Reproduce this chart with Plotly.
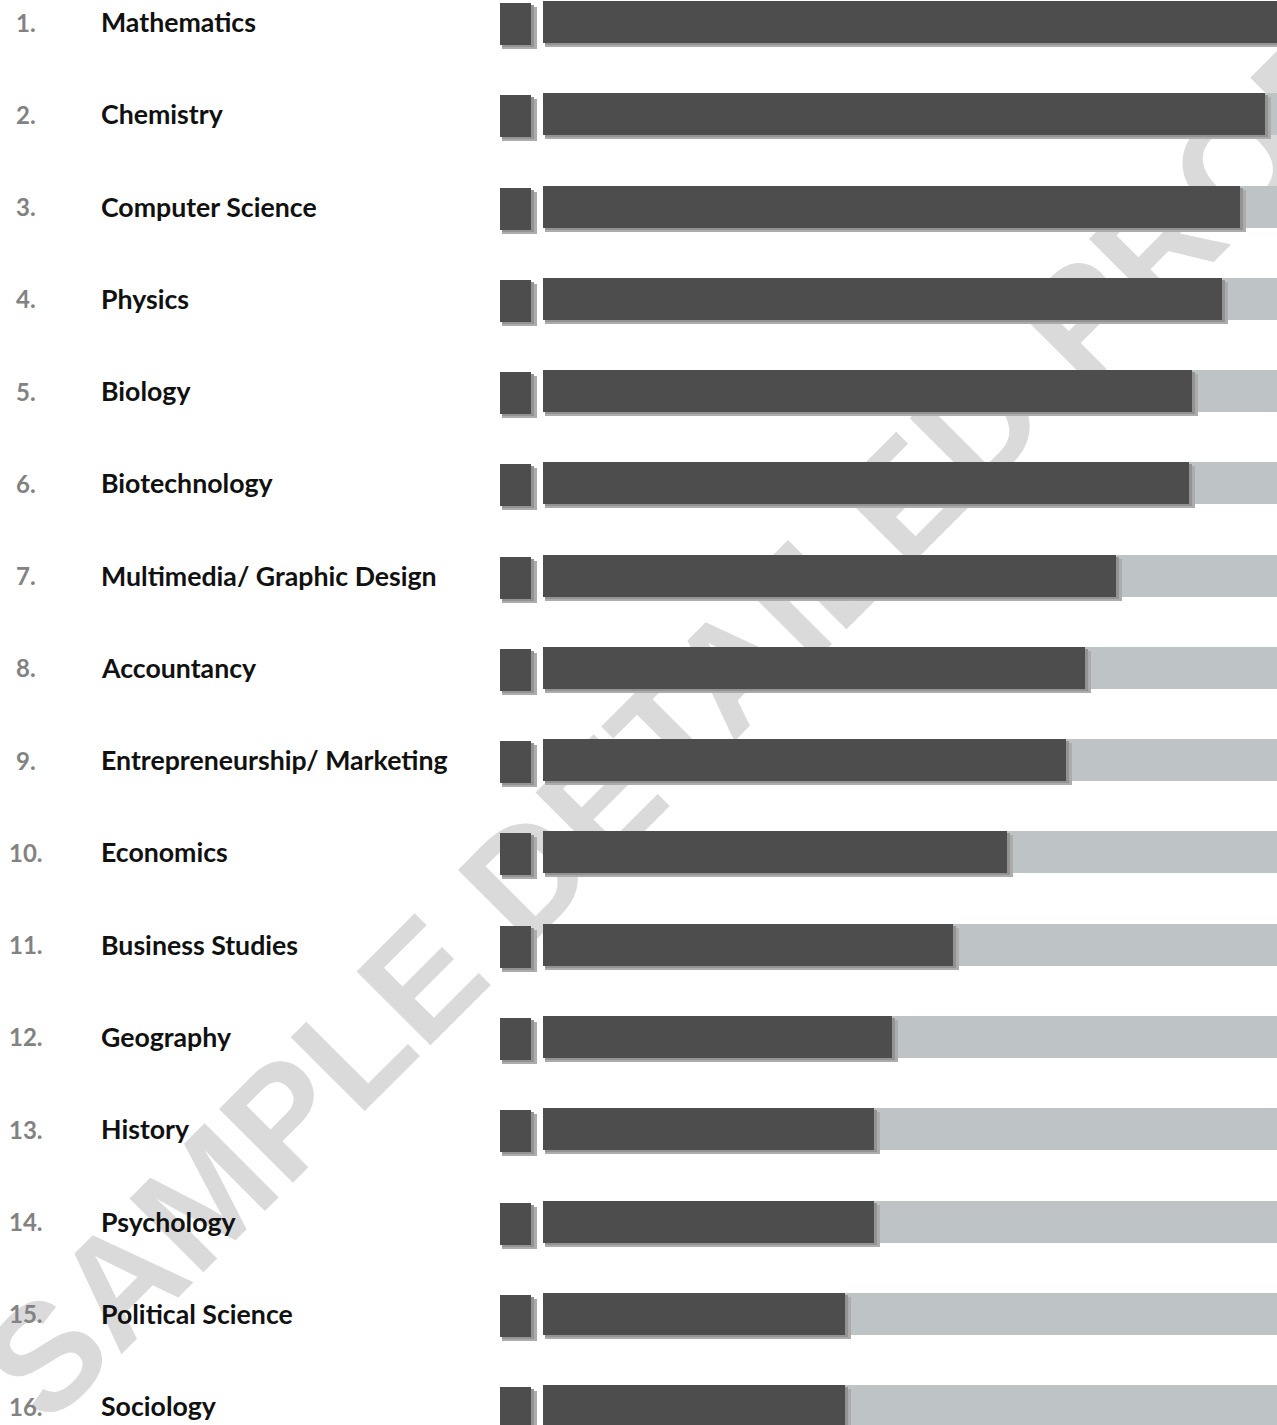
import plotly.graph_objects as go

# ---------------- data ----------------
ranks = ["1.", "2.", "3.", "4.", "5.", "6.", "7.", "8.", "9.", "10.",
         "11.", "12.", "13.", "14.", "15.", "16."]
subjects = ["Mathematics", "Chemistry", "Computer Science", "Physics", "Biology",
            "Biotechnology", "Multimedia/ Graphic Design", "Accountancy",
            "Entrepreneurship/ Marketing", "Economics", "Business Studies",
            "Geography", "History", "Psychology", "Political Science", "Sociology"]
scores = [100, 98.4, 95.0, 92.5, 88.4, 88.0, 78.1, 73.8, 71.3, 63.2,
          55.9, 47.5, 45.1, 45.1, 41.1, 41.1]
max_score = 100
square_flags = [1] * len(subjects)
watermark = "SAMPLE DETAILED PROFILE"

# ---------------- geometry ----------------
W, H = 1277, 1425
pitch = 92.27            # px per row
first_center = 22        # px from top
bar_h = 42 / pitch
ypos = list(range(len(subjects)))
y_top = -first_center / pitch
y_bot = y_top + H / pitch

bar_x0, bar_x1 = 543, 1277
px_per_unit = (bar_x1 - bar_x0) / max_score
sq_x0, sq_w, sq_extra = 500, 31, 7

DARK = "#4d4d4d"
LIGHT = "#bec3c6"
SH_OUT = "#acacac"
SH_IN = "#939393"

fig = go.Figure()

# background bars
fig.add_trace(go.Bar(x=[max_score] * len(scores), y=ypos, orientation="h",
                     width=bar_h, marker=dict(color=LIGHT, line_width=0),
                     xaxis="x", yaxis="y", hoverinfo="skip"))
# shadows
for dx, dy, col in [(6, 4, SH_OUT), (3, 2, SH_IN)]:
    fig.add_trace(go.Bar(x=[s - 2 / px_per_unit + dx / px_per_unit for s in scores],
                         base=2 / px_per_unit,
                         y=[p + dy / pitch for p in ypos], orientation="h",
                         width=bar_h, marker=dict(color=col, line_width=0),
                         xaxis="x", yaxis="y", hoverinfo="skip"))
# value bars
fig.add_trace(go.Bar(x=scores, y=ypos, orientation="h", width=bar_h,
                     marker=dict(color=DARK, line_width=0),
                     xaxis="x", yaxis="y", hovertemplate="%{x}<extra></extra>"))

# small squares (x2 axis, 1 unit = square width)
for dx, dy, col in [(6, 4, SH_OUT), (3, 2, SH_IN)]:
    fig.add_trace(go.Bar(x=[f - 2 / sq_w + dx / sq_w for f in square_flags],
                         base=2 / sq_w,
                         y=[p + (2 + dy) / pitch for p in ypos], orientation="h",
                         width=bar_h, marker=dict(color=col, line_width=0),
                         xaxis="x2", yaxis="y", hoverinfo="skip"))
fig.add_trace(go.Bar(x=square_flags, y=[p + 2 / pitch for p in ypos],
                     orientation="h", width=bar_h,
                     marker=dict(color=DARK, line_width=0),
                     xaxis="x2", yaxis="y", hoverinfo="skip"))

# labels
for i, (r, s) in enumerate(zip(ranks, subjects)):
    fig.add_annotation(x=26 / W, xref="paper", y=ypos[i], yref="y", text=r,
                       showarrow=False, xanchor="center", yanchor="middle",
                       font=dict(family="Lato", size=24, color="#828282", weight="bold"))
    fig.add_annotation(x=99 / W, xref="paper", y=ypos[i], yref="y", text=s,
                       showarrow=False, xanchor="left", yanchor="middle",
                       font=dict(family="Lato", size=26.7, color="#111111", weight="bold"))

# watermark (below traces)
cx, cy = 751 / W, 1 - 630 / H
fig.add_shape(type="rect", xref="paper", yref="paper",
              x0=cx - 0.05, x1=cx + 0.05, y0=cy - 0.05, y1=cy + 0.05,
              line=dict(width=0), fillcolor="rgba(0,0,0,0)", layer="below",
              label=dict(text=watermark, textangle=-45, textposition="middle center",
                         font=dict(family="Liberation Sans", size=152,
                                   color="#dadada", weight="bold")))

fig.update_layout(
    width=W, height=H, margin=dict(l=0, r=0, t=0, b=0),
    barmode="overlay", showlegend=False, bargap=0,
    paper_bgcolor="white", plot_bgcolor="rgba(0,0,0,0)",
    xaxis=dict(domain=[bar_x0 / W, 1], range=[0, max_score], visible=False,
               fixedrange=True),
    xaxis2=dict(domain=[sq_x0 / W, (sq_x0 + sq_w + sq_extra) / W],
                range=[0, (sq_w + sq_extra) / sq_w], visible=False, anchor="y",
                fixedrange=True),
    yaxis=dict(range=[y_bot, y_top], visible=False, fixedrange=True),
)

fig.write_html("out.html", config={"displayModeBar": False},
               post_script="document.body.style.margin='0';")
